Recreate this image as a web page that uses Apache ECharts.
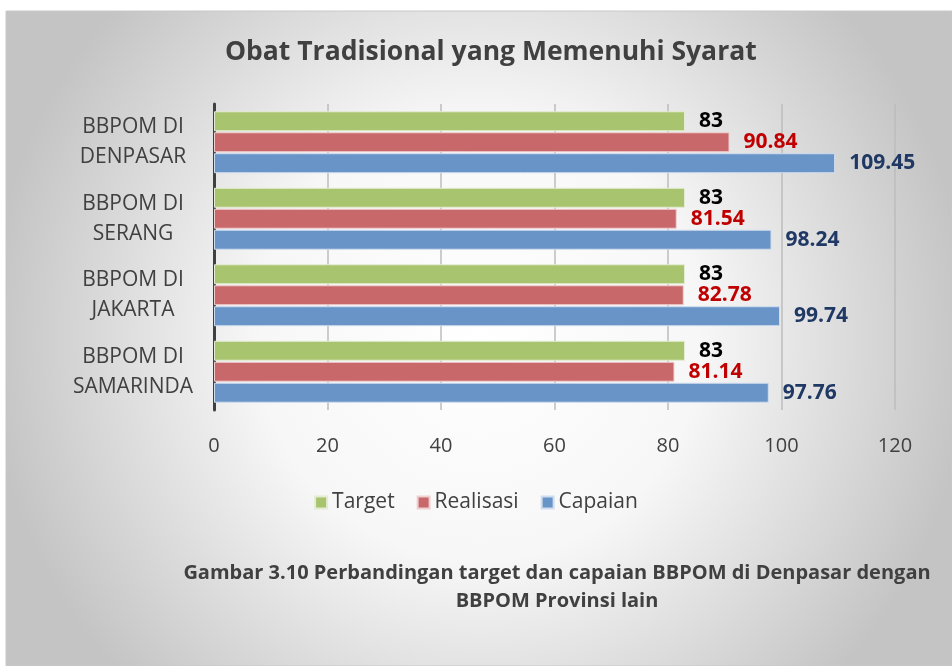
<!DOCTYPE html>
<html><head><meta charset="utf-8">
<script src="https://cdn.jsdelivr.net/npm/echarts@6/dist/echarts.min.js"></script>
<style>html,body{margin:0;padding:0;background:#fff}#c{width:952px;height:666px}</style>
</head><body><div id="c"></div>
<script>
const categories = ['BBPOM DI\nDENPASAR', 'BBPOM DI\nSERANG', 'BBPOM DI\nJAKARTA', 'BBPOM DI\nSAMARINDA'];
const target = [83, 83, 83, 83];
const realisasi = [90.84, 81.54, 82.78, 81.14];
const capaian = [109.45, 98.24, 99.74, 97.76];
const xTicks = [0, 20, 40, 60, 80, 100, 120];

const FONT = '"Open Sans", "Noto Sans", sans-serif';
const chart = echarts.init(document.getElementById('c'));
function lbl(color) {
  return {show: true, position: 'right', distance: 14, color: color, fontWeight: 'bold', fontSize: 21, fontFamily: FONT};
}
chart.setOption({
  backgroundColor: '#fff',
  animation: false,
  graphic: [{
    type: 'rect', z: -10, silent: true,
    shape: {x: 6, y: 11, width: 946, height: 655},
    style: {fill: new echarts.graphic.RadialGradient(0.5, 0.5, 0.75, [
      {offset: 0, color: '#ffffff'}, {offset: 0.45, color: '#f7f7f7'}, {offset: 1, color: '#c4c4c4'}]),
      stroke: '#c8c8c8', lineWidth: 1}
  }, {
    type: 'text', silent: true, x: 557, y: 559,
    style: {text: 'Gambar 3.10 Perbandingan target dan capaian BBPOM di Denpasar dengan\nBBPOM Provinsi lain',
      fill: '#404040', font: 'bold 20px ' + FONT, align: 'center', verticalAlign: 'top', lineHeight: 28}
  }],
  title: {
    text: 'Obat Tradisional yang Memenuhi Syarat', left: 220, top: 34,
    textStyle: {color: '#404040', fontSize: 26.5, fontWeight: 'bold', fontFamily: FONT}
  },
  legend: {
    data: ['Target', 'Realisasi', 'Capaian'], top: 487, left: 'center',
    itemWidth: 12, itemHeight: 12, itemGap: 22, icon: 'rect',
    textStyle: {color: '#404040', fontSize: 21, fontFamily: FONT}
  },
  grid: {left: 214, right: 57, top: 104, bottom: 256, containLabel: false},
  xAxis: {
    type: 'value', min: 0, max: 120, interval: 20,
    axisLine: {show: false}, axisTick: {show: false},
    splitLine: {show: true, lineStyle: {color: '#bdbdbd', width: 1.5}},
    axisLabel: {color: '#404040', fontSize: 20, fontFamily: FONT, margin: 26,
      formatter: v => xTicks.includes(v) ? String(v) : ''}
  },
  yAxis: {
    type: 'category', data: categories, inverse: true,
    axisLine: {show: true, lineStyle: {color: '#404040', width: 3}},
    axisTick: {show: false},
    axisLabel: {color: '#404040', fontSize: 21, fontFamily: FONT, margin: 81, align: 'center', lineHeight: 30}
  },
  series: [
    {name: 'Target', type: 'bar', data: target, barGap: '5%', barCategoryGap: '19%',
      itemStyle: {color: '#a9c46f', borderColor: '#e4ecd2', borderWidth: 1}, label: lbl('#000000')},
    {name: 'Realisasi', type: 'bar', data: realisasi,
      itemStyle: {color: '#c9686a', borderColor: '#efd0d0', borderWidth: 1}, label: lbl('#c00000')},
    {name: 'Capaian', type: 'bar', data: capaian,
      itemStyle: {color: '#6894c8', borderColor: '#d0ddef', borderWidth: 1}, label: lbl('#1f3864')}
  ]
});
</script></body></html>
